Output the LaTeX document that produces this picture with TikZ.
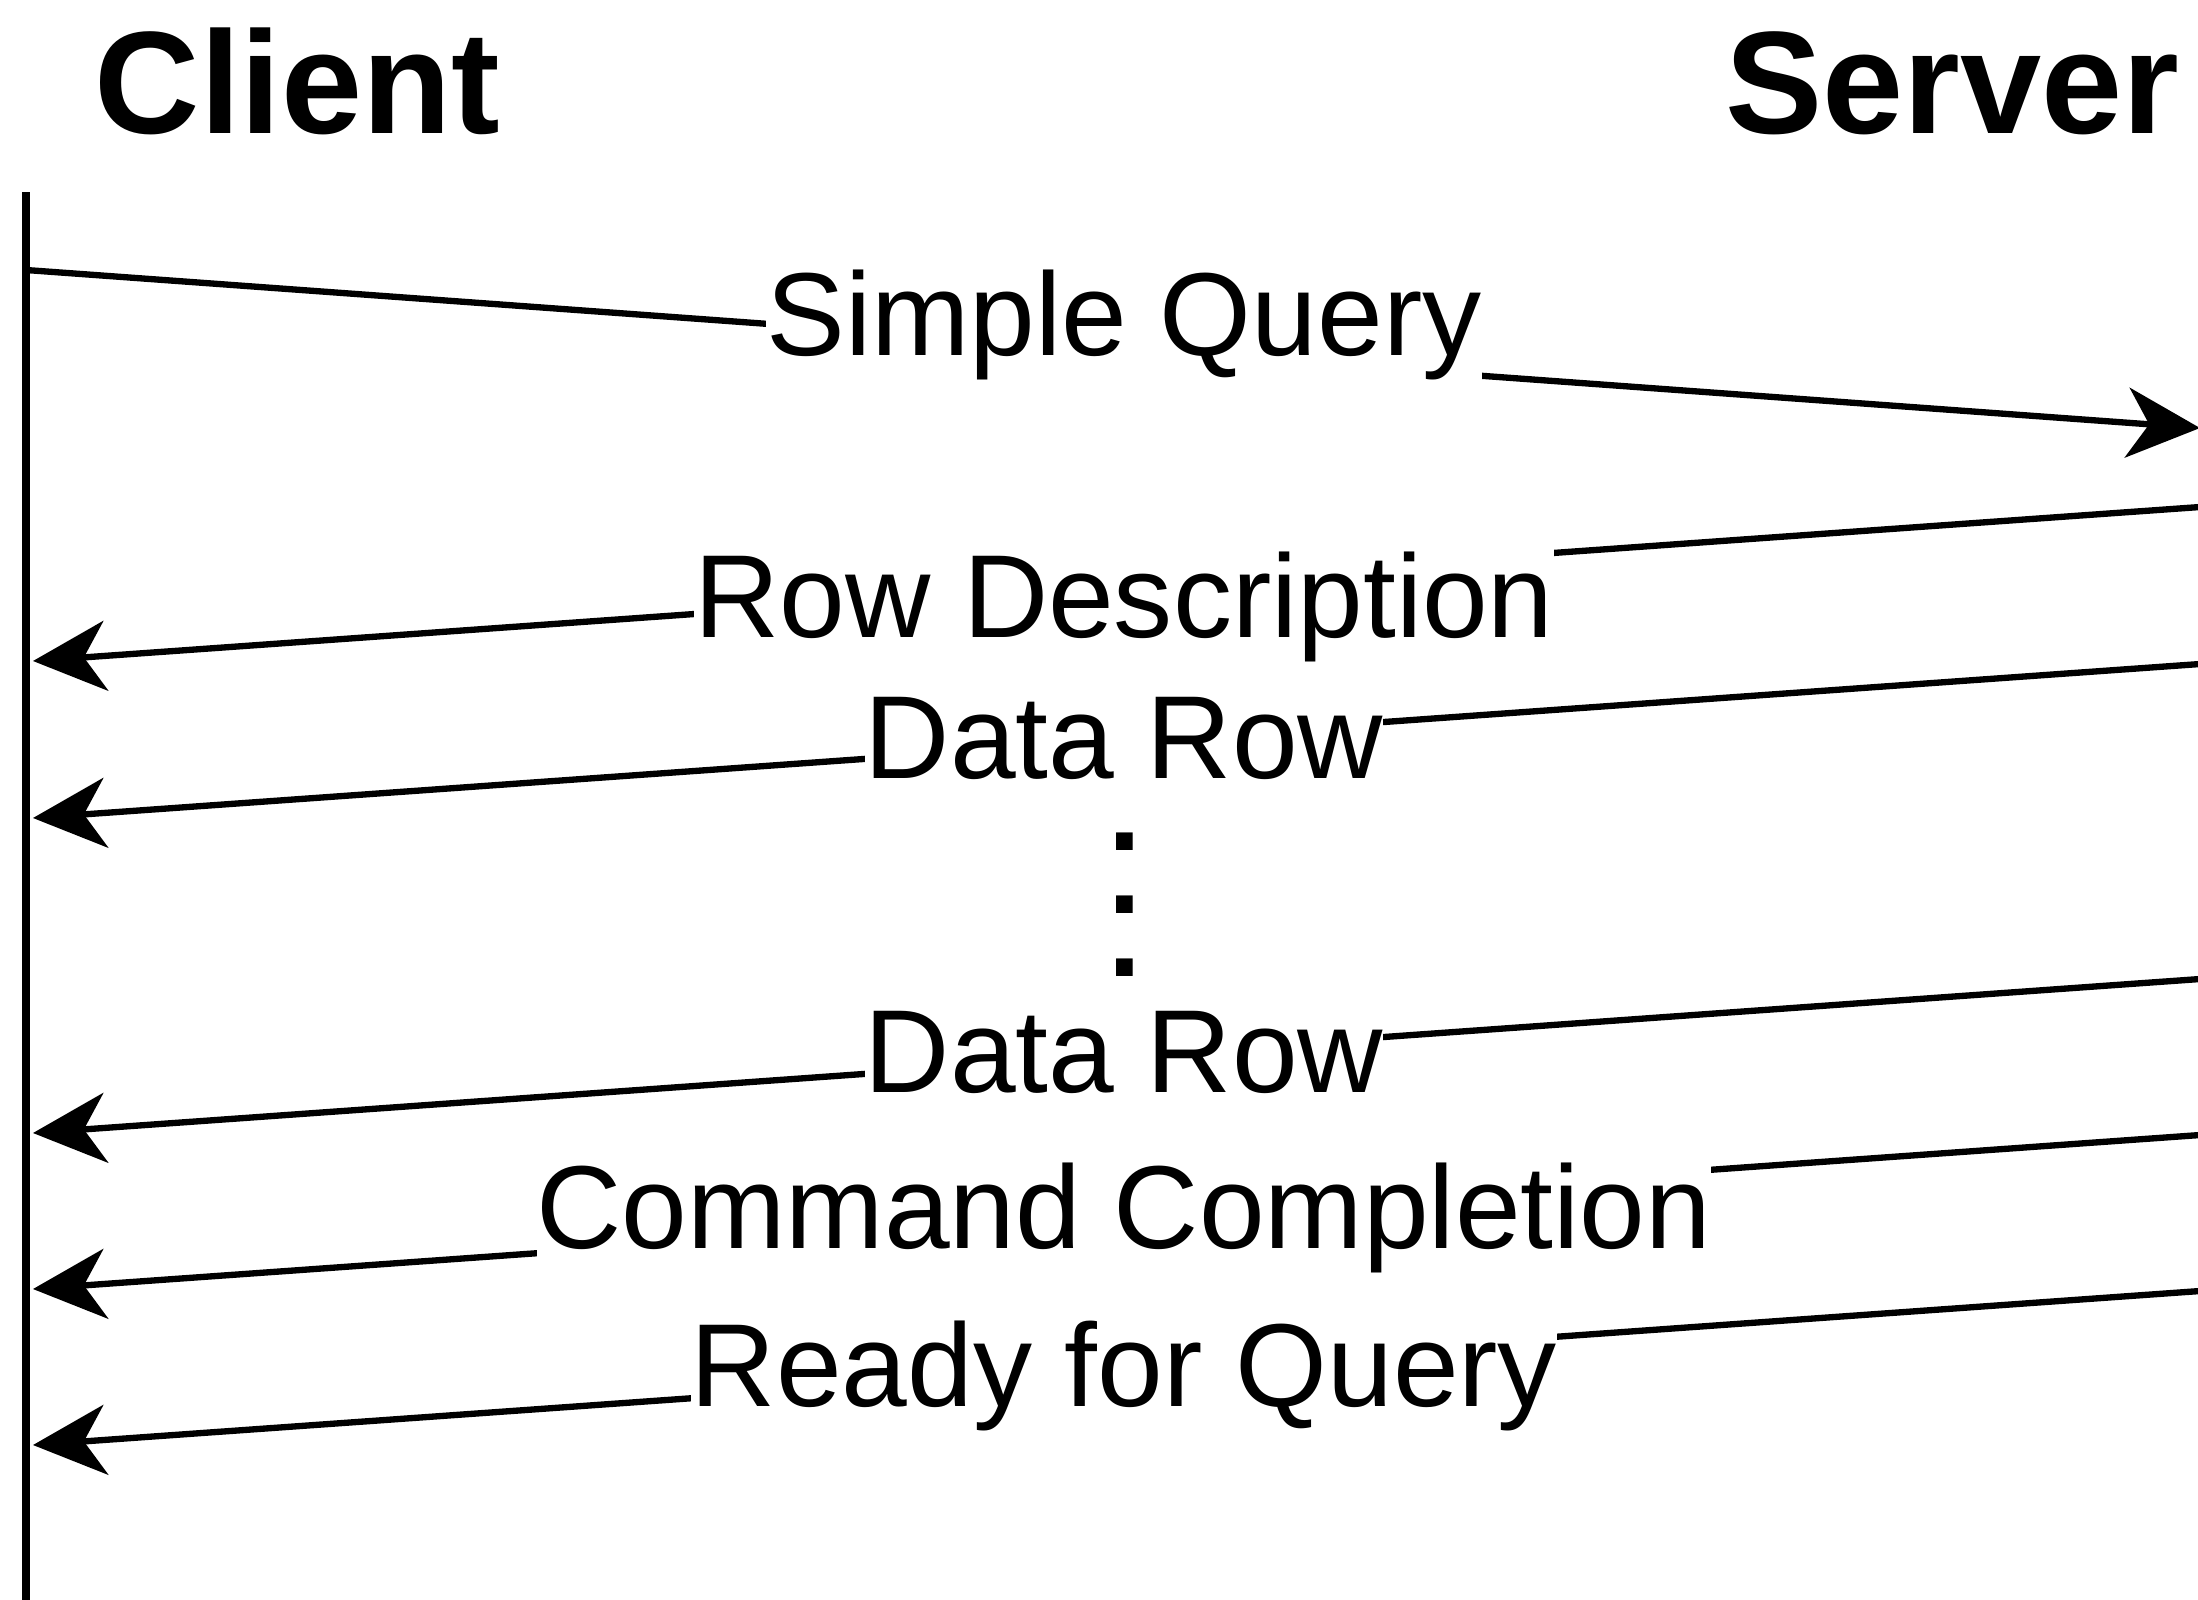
\documentclass[tikz,border=0pt]{standalone}
\usepackage{fontspec}
\setmainfont{Liberation Sans}
\usetikzlibrary{arrows.meta}

\begin{document}
\begin{tikzpicture}
         [x=1cm,y=-1cm,
          msg/.style={fill=white,inner sep=0pt,text height=0.9cm,text depth=0.26cm,
                      anchor=base,font=\fontsize{33.6}{40}\selectfont},
          head/.style={inner sep=0pt,font=\fontsize{41.5}{50}\selectfont\bfseries},
          arr/.style={line width=1.8pt,-{Stealth[length=7.3mm,width=7mm,inset=2.2mm]}}]
         \useasboundingbox (0,0) rectangle (21.98,15.99);
         \node[head,anchor=base west] (client) at (0.94,1.33) {Client};
         \node[head,anchor=base east] (server) at (21.80,1.33) {Server};
         \coordinate (ctop) at (0.26,1.92);
         \coordinate (cbot) at (0.26,16.1);
         \draw[line width=2.2pt] (ctop) -- (cbot);
         % message ends: c = client side, s = server edge
         \coordinate (c1) at (0.26,2.70);  \coordinate (s1) at (22.0,4.28);
         \coordinate (c2) at (0.33,6.61);  \coordinate (s2) at (22.0,5.07);
         \coordinate (c3) at (0.33,8.18);  \coordinate (s3) at (22.0,6.64);
         \coordinate (c4) at (0.33,11.33); \coordinate (s4) at (22.0,9.79);
         \coordinate (c5) at (0.33,12.89); \coordinate (s5) at (22.0,11.35);
         \coordinate (c6) at (0.33,14.45); \coordinate (s6) at (22.0,12.91);
         \draw[arr] (c1) -- (s1);
         \foreach \from/\to in {s2/c2, s3/c3, s4/c4, s5/c5, s6/c6}
            \draw[arr] (\from) -- (\to);
         \node[msg] (query) at (11.24,3.55)  {Simple Query};
         \node[msg] (rowdesc) at (11.24,6.37)  {Row Description};
         \node[msg] (row1) at (11.24,7.78)  {Data Row};
         \node[align=center,inner sep=0pt,font=\fontsize{33.6}{17.9}\selectfont\bfseries]
            (gap) at (11.25,9.05) {.\\.\\.};
         \node[msg] (row2) at (11.24,10.92) {Data Row};
         \node[msg] (complete) at (11.24,12.48) {Command Completion};
         \node[msg] (ready) at (11.24,14.06) {Ready for Query};
\end{tikzpicture}
\end{document}
